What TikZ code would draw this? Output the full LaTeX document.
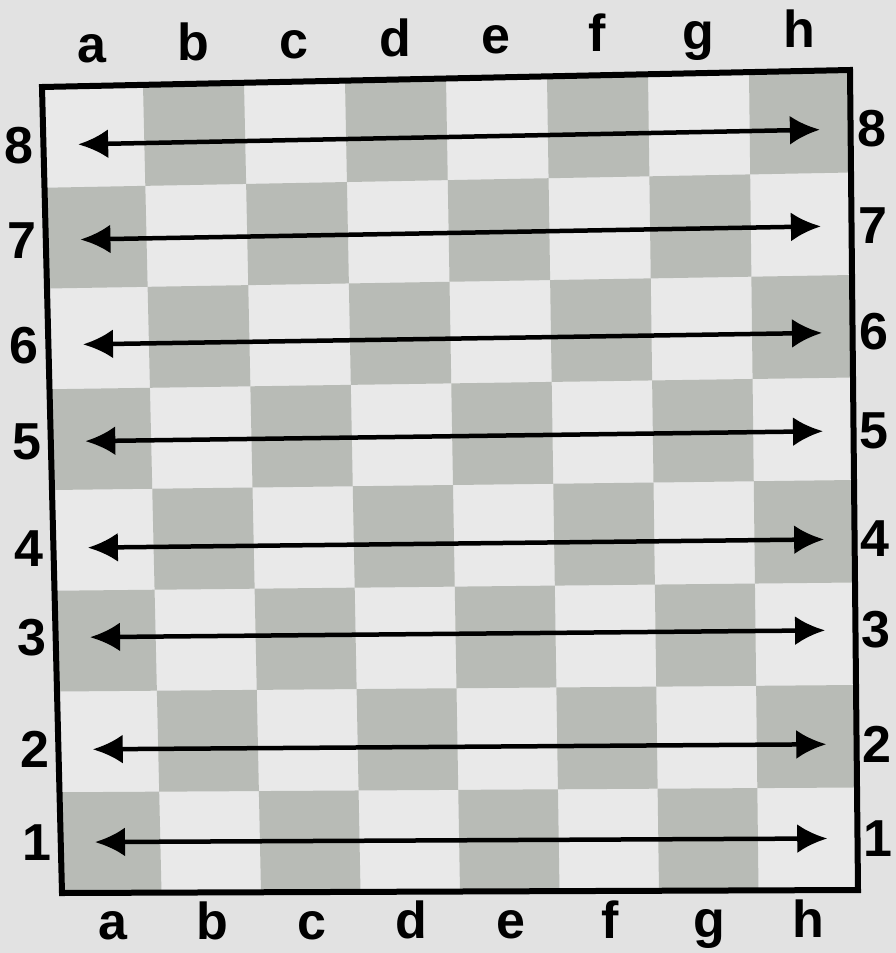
\documentclass[tikz,border=0pt]{standalone}
\usepackage{fontspec}
\setmainfont{Liberation Sans}
\usetikzlibrary{calc, arrows.meta}

\definecolor{bgcol}{RGB}{226,226,226}
\definecolor{boardcol}{RGB}{233,233,233}
\definecolor{darksq}{RGB}{184,187,182}

\begin{document}
\begin{tikzpicture}[x=1pt, y=-1pt, >={Latex[length=30pt,width=29pt]},
    declare function={bx(\u,\v)=(1-\v)*(42+808*\u)+\v*(62+796*\u);
                      by(\u,\v)=(1-\v)*(87-17*\u)+\v*(893-3*\u);},
    lbl/.style={font=\fontsize{52}{52}\selectfont\bfseries, inner sep=0pt},
    filelbl/.style={lbl, anchor=base},
    frame/.style={line width=6pt, line join=miter},
    rankarrow/.style={line width=4.5pt, <->}]
        \fill[bgcol] (0,0) rectangle (896,953);
        \useasboundingbox (0,0) rectangle (896,953);

        % board corners (photo is slightly skewed)
        \coordinate (TL) at (42,87);
        \coordinate (TR) at (850,70);
        \coordinate (BR) at (858,890);
        \coordinate (BL) at (62,893);
        \fill[boardcol] (TL) -- (TR) -- (BR) -- (BL) -- cycle;

        % dark squares
        \foreach \f in {1,...,8} {
            \foreach \r in {1,...,8} {
                \pgfmathtruncatemacro{\sqpar}{mod(\f+\r,2)}
                \ifnum\sqpar=0
                    \pgfmathsetmacro{\ua}{(\f-1)/8}
                    \pgfmathsetmacro{\ub}{\f/8}
                    \pgfmathsetmacro{\va}{(8-\r)/8}
                    \pgfmathsetmacro{\vb}{(9-\r)/8}
                    \fill[darksq] ({bx(\ua,\va)},{by(\ua,\va)}) -- ({bx(\ub,\va)},{by(\ub,\va)})
                        -- ({bx(\ub,\vb)},{by(\ub,\vb)}) -- ({bx(\ua,\vb)},{by(\ua,\vb)}) -- cycle;
                \fi
            }
        }

        \draw[frame] (TL) -- (TR) -- (BR) -- (BL) -- cycle;

        % rank arrows and rank numbers
        \foreach \r/\vm in {8/0.072, 7/0.19, 6/0.32, 5/0.44, 4/0.572, 3/0.683, 2/0.822, 1/0.937} {
            \coordinate (L\r) at ({bx(0.043,\vm)},{by(0.043,\vm)});
            \coordinate (R\r) at ({bx(0.962,\vm)},{by(0.962,\vm)});
            \draw[rankarrow] (L\r) -- (R\r);
            \node[lbl] (left\r) at ({bx(-0.03,\vm)},{by(-0.03,\vm)}) {\r};
            \node[lbl] (right\r) at ({bx(1.026,\vm)},{by(1.026,\vm)}) {\r};
        }

        % file letters
        \foreach \f/\l in {1/a,2/b,3/c,4/d,5/e,6/f,7/g,8/h} {
            \pgfmathsetmacro{\um}{(\f-0.5)/8}
            \node[filelbl] (top\l) at ({bx(\um,-0.029)},{by(\um,-0.029)}) {\l};
            \node[filelbl] (bot\l) at ({bx(\um,1.058)},{by(\um,1.058)}) {\l};
        }
    \end{tikzpicture}
\end{document}
